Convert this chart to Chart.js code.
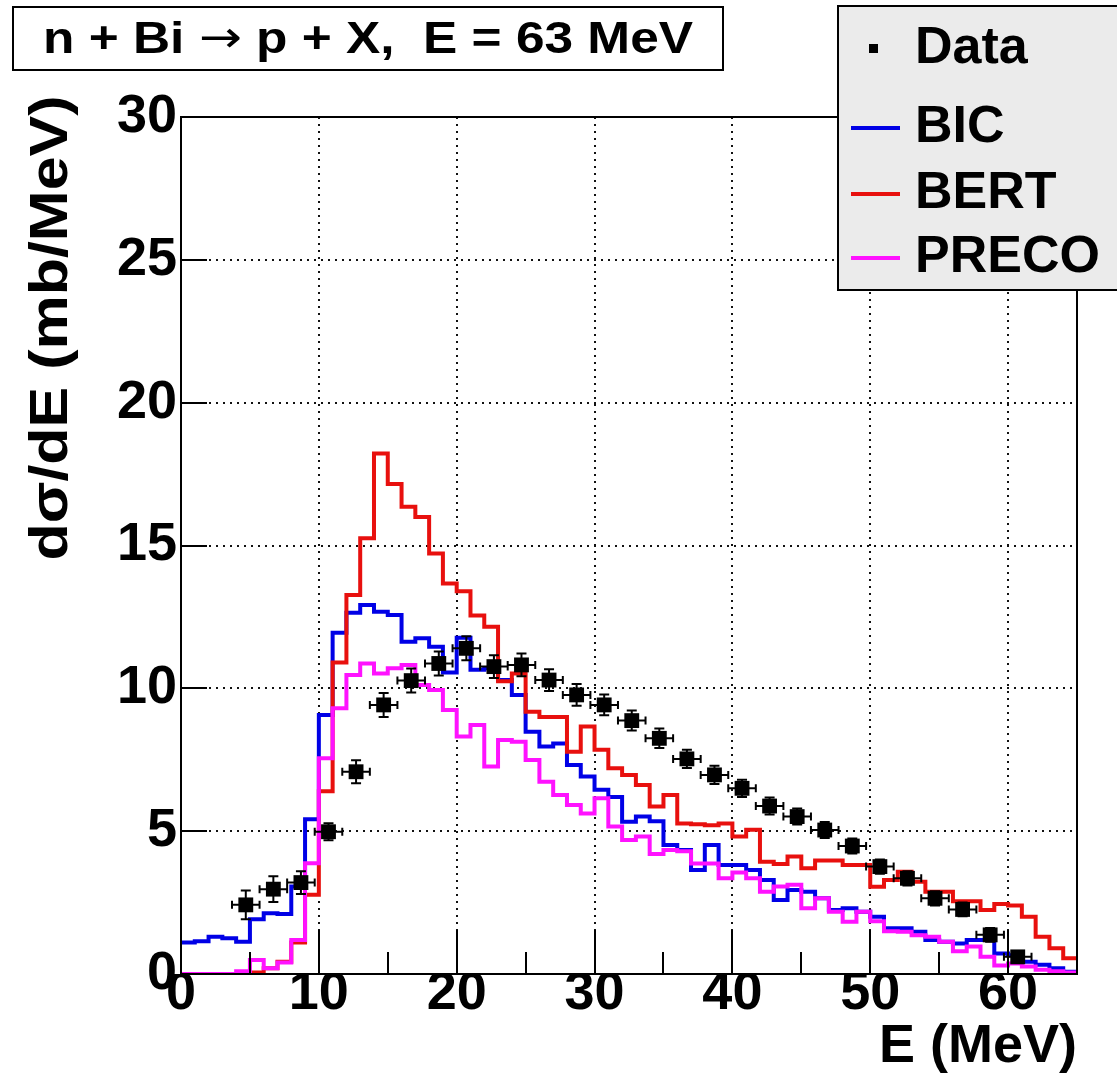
<!DOCTYPE html>
<html>
<head>
<meta charset="utf-8">
<script src="https://cdn.jsdelivr.net/npm/chart.js@4.4.0/dist/chart.umd.min.js"></script>
<style>
  body { margin: 0; background: #fff; }
  canvas { display: block; }
</style>
</head>
<body>
<canvas id="myChart" width="1117" height="1086" style="width:1117px;height:1086px"></canvas>
<script>
// 1 MeV bins from 0 to 65 MeV
const binWidth = 1
const binCount = 65

const bicValues = [
  1.10, 1.15, 1.30, 1.25, 1.13, 1.92, 2.13, 2.10, 3.06, 5.42,
  9.07, 11.95, 12.65, 12.92, 12.68, 12.57, 11.63, 11.75, 11.46, 10.55,
  11.77, 10.65, 10.70, 10.29, 9.77, 8.48, 7.96, 8.07, 7.32, 6.91,
  6.45, 6.20, 5.33, 5.51, 5.35, 4.52, 4.34, 3.64, 4.52, 3.82,
  3.82, 3.64, 3.29, 2.59, 2.94, 2.88, 2.65, 2.24, 2.30, 2.18,
  2.00, 1.60, 1.60, 1.48, 1.19, 1.13, 1.07, 1.19, 1.19, 0.72,
  0.66, 0.43, 0.32, 0.20, 0.08
]
const bertValues = [
  0, 0, 0, 0, 0, 0.05, 0.20, 0.43, 1.10, 2.77,
  6.40, 10.90, 13.27, 15.25, 18.22, 17.15, 16.36, 16.00, 14.72, 13.67,
  13.40, 12.55, 12.16, 10.25, 10.52, 9.18, 9.00, 9.00, 7.78, 8.66,
  7.85, 7.20, 6.97, 6.62, 5.86, 6.27, 5.27, 5.24, 5.21, 5.27,
  4.81, 5.05, 3.93, 3.85, 4.11, 3.70, 3.97, 3.97, 3.82, 3.82,
  3.05, 3.29, 3.58, 3.23, 2.88, 2.88, 2.55, 2.55, 2.24, 2.45,
  2.40, 2.00, 1.30, 0.90, 0.55
]
const precoValues = [
  0, 0, 0, 0, 0.10, 0.49, 0.20, 0.40, 1.19, 3.88,
  7.55, 9.30, 10.47, 10.87, 10.52, 10.70, 10.82, 10.12, 9.94, 9.24,
  8.31, 8.72, 7.26, 8.19, 8.13, 7.49, 6.73, 6.27, 5.92, 5.62,
  6.15, 5.16, 4.69, 4.81, 4.20, 4.34, 4.30, 3.87, 3.87, 3.35,
  3.55, 3.35, 2.88, 3.06, 3.12, 2.30, 2.65, 2.18, 1.83, 2.18,
  1.85, 1.50, 1.48, 1.36, 1.30, 1.13, 0.80, 0.96, 0.60, 0.30,
  0.37, 0.26, 0.15, 0.10, 0.05
]

const dataEnergy = [4.7, 6.7, 8.7, 10.7, 12.7, 14.7, 16.7, 18.7, 20.7, 22.7,
  24.7, 26.7, 28.7, 30.7, 32.7, 34.7, 36.7, 38.7, 40.7, 42.7,
  44.7, 46.7, 48.7, 50.7, 52.7, 54.7, 56.7, 58.7, 60.7]
const dataXsec = [2.42, 2.97, 3.20, 4.98, 7.08, 9.42, 10.27, 10.87, 11.40, 10.76,
  10.82, 10.29, 9.77, 9.42, 8.87, 8.25, 7.53, 6.97, 6.50, 5.88,
  5.51, 5.04, 4.48, 3.76, 3.35, 2.65, 2.26, 1.37, 0.60]
const dataErrY = [0.50, 0.45, 0.40, 0.30, 0.40, 0.42, 0.42, 0.42, 0.42, 0.40,
  0.40, 0.38, 0.38, 0.36, 0.35, 0.34, 0.32, 0.32, 0.30, 0.30,
  0.28, 0.28, 0.26, 0.25, 0.25, 0.25, 0.24, 0.24, 0.20]
const dataErrX = 1

const xTickStep = 10
const yTickStep = 5

const FONT = '"Liberation Sans", Arial, Helvetica, sans-serif'
const SYMBOL_FONT = '"DejaVu Sans", sans-serif'

const bicColor = '#0000e6'
const bertColor = '#e8100e'
const precoColor = '#ff12ff'

// histogram -> step line points (bin low edges + closing edge)
function histPoints(values) {
  const pts = values.map((v, i) => ({ x: i * binWidth, y: v }))
  pts.push({ x: binCount * binWidth, y: values[values.length - 1] })
  return pts
}

function drawText(ctx, text, x, y, size, width, align) {
  ctx.font = 'bold ' + size + 'px ' + FONT
  const w = ctx.measureText(text).width
  const sx = width ? width / w : 1
  ctx.save()
  ctx.translate(x, y)
  ctx.scale(sx, 1)
  ctx.textAlign = align
  ctx.textBaseline = 'middle'
  ctx.fillStyle = '#000'
  ctx.fillText(text, 0, 0)
  ctx.restore()
}

// title made of pieces so the arrow can come from a symbol font
function drawTitle(ctx, pieces, cx, y, size, width) {
  const fonts = pieces.map(p => (p.symbol ? '' : 'bold ') + size + 'px ' + (p.symbol ? SYMBOL_FONT : FONT))
  let total = 0
  const widths = pieces.map((p, i) => {
    ctx.font = fonts[i]
    const w = ctx.measureText(p.text).width
    total += w
    return w
  })
  const sx = width / total
  ctx.save()
  ctx.translate(cx - width / 2, y)
  ctx.scale(sx, 1)
  ctx.textAlign = 'left'
  ctx.textBaseline = 'middle'
  ctx.fillStyle = '#000'
  let pos = 0
  pieces.forEach((p, i) => {
    ctx.font = fonts[i]
    ctx.fillText(p.text, pos, 0)
    pos += widths[i]
  })
  ctx.restore()
}

const rootStyle = {
  id: 'rootStyle',
  beforeDatasetsDraw(chart) {
    const { ctx, chartArea: a, scales: { x, y } } = chart
    ctx.save()
    ctx.strokeStyle = '#111'
    ctx.lineWidth = 2
    ctx.setLineDash([2, 5])
    ctx.beginPath()
    x.ticks.forEach(t => {
      if (t.value <= x.min || t.value >= x.max) return
      const px = Math.round(x.getPixelForValue(t.value))
      ctx.moveTo(px, a.top); ctx.lineTo(px, a.bottom)
    })
    y.ticks.forEach(t => {
      if (t.value <= y.min || t.value >= y.max) return
      const py = Math.round(y.getPixelForValue(t.value))
      ctx.moveTo(a.left, py); ctx.lineTo(a.right, py)
    })
    ctx.stroke()
    ctx.restore()
  },
  afterDatasetsDraw(chart) {
    const { ctx, chartArea: a, scales: { x, y } } = chart
    ctx.save()
    // error bars
    ctx.strokeStyle = '#000'
    ctx.lineWidth = 2
    ctx.beginPath()
    dataEnergy.forEach((e, i) => {
      const px = x.getPixelForValue(e)
      const py = y.getPixelForValue(dataXsec[i])
      const x1 = x.getPixelForValue(e - dataErrX)
      const x2 = x.getPixelForValue(e + dataErrX)
      const y1 = y.getPixelForValue(dataXsec[i] + dataErrY[i])
      const y2 = y.getPixelForValue(dataXsec[i] - dataErrY[i])
      ctx.moveTo(x1, py); ctx.lineTo(x2, py)
      ctx.moveTo(x1, py - 4); ctx.lineTo(x1, py + 4)
      ctx.moveTo(x2, py - 4); ctx.lineTo(x2, py + 4)
      ctx.moveTo(px, y1); ctx.lineTo(px, y2)
      ctx.moveTo(px - 5, y1); ctx.lineTo(px + 5, y1)
      ctx.moveTo(px - 5, y2); ctx.lineTo(px + 5, y2)
    })
    ctx.stroke()

    // axis tick marks (inside the frame)
    ctx.beginPath()
    x.ticks.forEach(t => {
      const px = Math.round(x.getPixelForValue(t.value))
      ctx.moveTo(px, a.bottom); ctx.lineTo(px, a.bottom - 44)
      const half = t.value + xTickStep / 2
      if (half < x.max) {
        const pm = Math.round(x.getPixelForValue(half))
        ctx.moveTo(pm, a.bottom); ctx.lineTo(pm, a.bottom - 22)
      }
    })
    y.ticks.forEach(t => {
      const py = Math.round(y.getPixelForValue(t.value))
      ctx.moveTo(a.left, py); ctx.lineTo(a.left + 26, py)
    })
    ctx.stroke()

    // frame
    ctx.lineWidth = 2
    ctx.strokeRect(a.left, a.top, a.width, a.height)
    ctx.restore()
  },
  afterDraw(chart) {
    const { ctx } = chart
    ctx.save()
    // title box
    ctx.fillStyle = '#fff'
    ctx.fillRect(13, 7, 710, 63)
    ctx.strokeStyle = '#000'
    ctx.lineWidth = 2
    ctx.strokeRect(13, 7, 710, 63)
    drawTitle(ctx, [
      { text: 'n + Bi ' },
      { text: '\u2192', symbol: true },
      { text: ' p + X,  E = 63 MeV' }
    ], 368, 41, 44, 650)

    // legend box
    ctx.fillStyle = '#ebebeb'
    ctx.fillRect(838, 6, 300, 284)
    ctx.strokeRect(838, 6, 300, 284)
    const entries = [
      { label: 'Data', y: 49, color: null },
      { label: 'BIC', y: 128, color: bicColor },
      { label: 'BERT', y: 194, color: bertColor },
      { label: 'PRECO', y: 258, color: precoColor }
    ]
    entries.forEach(en => {
      if (en.color) {
        ctx.strokeStyle = en.color
        ctx.lineWidth = 4
        ctx.beginPath()
        ctx.moveTo(851, en.y); ctx.lineTo(900, en.y)
        ctx.stroke()
      } else {
        ctx.fillStyle = '#000'
        ctx.fillRect(869, en.y - 5, 9, 9)
      }
      drawText(ctx, en.label, 915, en.y, 52, 0, 'left')
    })

    // axis titles
    ctx.save()
    ctx.translate(52, 328)
    ctx.rotate(-Math.PI / 2)
    drawText(ctx, 'd\u03c3/dE (mb/MeV)', 0, 0, 54, 465, 'center')
    ctx.restore()
    drawText(ctx, 'E (MeV)', 1077, 1047, 54, 0, 'right')
    ctx.restore()
  }
}

const ctx = document.getElementById('myChart')
new Chart(ctx, {
  type: 'scatter',
  data: {
    datasets: [
      {
        label: 'Data',
        data: dataEnergy.map((e, i) => ({ x: e, y: dataXsec[i] })),
        pointStyle: 'rect',
        pointRadius: 10.5,
        backgroundColor: '#000',
        borderColor: '#000',
        borderWidth: 0
      },
      {
        type: 'line',
        label: 'PRECO',
        data: histPoints(precoValues),
        stepped: true,
        borderColor: precoColor,
        borderWidth: 4,
        pointRadius: 0,
        fill: false
      },
      {
        type: 'line',
        label: 'BERT',
        data: histPoints(bertValues),
        stepped: true,
        borderColor: bertColor,
        borderWidth: 4,
        pointRadius: 0,
        fill: false
      },
      {
        type: 'line',
        label: 'BIC',
        data: histPoints(bicValues),
        stepped: true,
        borderColor: bicColor,
        borderWidth: 4,
        pointRadius: 0,
        fill: false
      }
    ]
  },
  options: {
    responsive: false,
    animation: false,
    devicePixelRatio: 1,
    layout: { padding: { top: 117, right: 40, left: 0, bottom: 0 } },
    plugins: { legend: { display: false }, tooltip: { enabled: false } },
    scales: {
      x: {
        type: 'linear',
        min: 0,
        max: 65,
        grid: { display: false, drawTicks: false },
        border: { display: false },
        ticks: {
          stepSize: xTickStep,
          includeBounds: false,
          autoSkip: false,
          maxRotation: 0,
          padding: -7,
          color: '#000',
          font: { family: FONT, size: 54, weight: 'bold', lineHeight: 1 }
        },
        afterFit(scale) { scale.height = 112 }
      },
      y: {
        min: 0,
        max: 30,
        grid: { display: false, drawTicks: false },
        border: { display: false },
        ticks: {
          stepSize: yTickStep,
          autoSkip: false,
          padding: 4,
          color: '#000',
          font: { family: FONT, size: 54, weight: 'bold', lineHeight: 1 }
        },
        afterFit(scale) { scale.width = 181 }
      }
    }
  },
  plugins: [rootStyle]
})
</script>
</body>
</html>
